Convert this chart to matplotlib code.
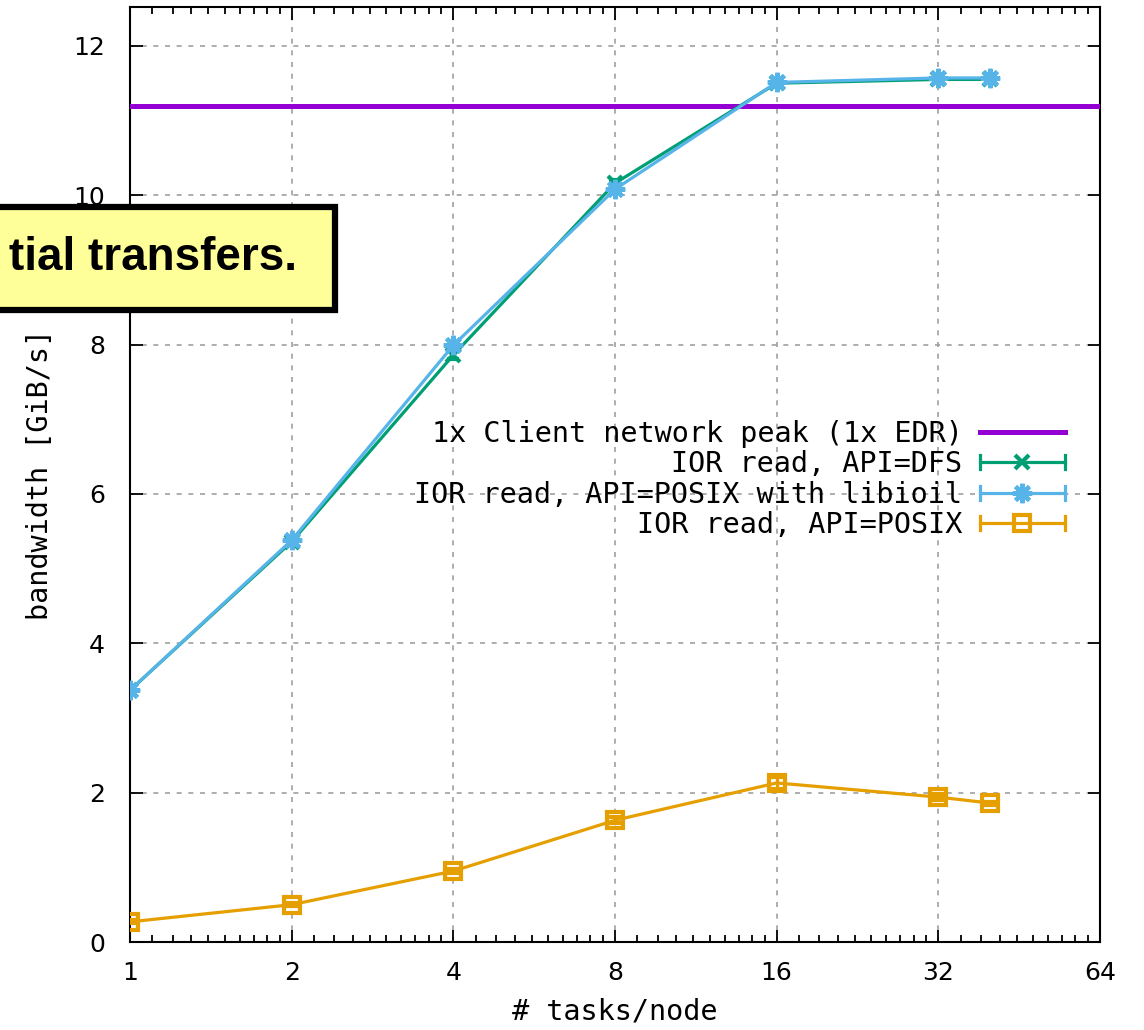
import numpy as np
import matplotlib
matplotlib.use("Agg")
import matplotlib.pyplot as plt
from matplotlib.ticker import FixedLocator, LogLocator, NullFormatter
from matplotlib.patches import Rectangle
from matplotlib.lines import Line2D
from matplotlib.legend_handler import HandlerBase

# data
tasks = [1, 2, 4, 8, 16, 32, 40]
peak_edr = 11.2
dfs_bw = [3.37, 5.36, 7.86, 10.16, 11.50, 11.55, 11.55]
dfs_err = [0.03, 0.03, 0.05, 0.04, 0.03, 0.03, 0.03]
libioil_bw = [3.37, 5.38, 7.99, 10.08, 11.51, 11.57, 11.57]
libioil_err = [0.03, 0.03, 0.04, 0.05, 0.03, 0.03, 0.03]
posix_bw = [0.27, 0.50, 0.95, 1.63, 2.13, 1.94, 1.86]
posix_err = [0.02, 0.02, 0.03, 0.04, 0.08, 0.04, 0.02]

labels = ["1x Client network peak (1x EDR)", "IOR read, API=DFS",
          "IOR read, API=POSIX with libioil", "IOR read, API=POSIX"]
callout_text = "tial transfers."

mono = "DejaVu Sans Mono"


class GnuplotErrHandler(HandlerBase):
    # gnuplot style key sample: line with end caps and a marker in the middle
    def create_artists(self, legend, orig, xd, yd, width, height, fontsize, trans):
        line = orig.lines[0]
        y = height / 2 - yd
        x0, x1 = -xd, -xd + width
        art = [Line2D([x0, x1], [y, y], color=line.get_color(), lw=line.get_linewidth())]
        for x in (x0, x1):
            art.append(Line2D([x, x], [y - 5, y + 5], color=line.get_color(),
                              lw=line.get_linewidth()))
        art.append(Line2D([(x0 + x1) / 2], [y], color=line.get_color(),
                          marker=line.get_marker(), ms=line.get_markersize(),
                          mew=line.get_markeredgewidth(), mfc=line.get_markerfacecolor(),
                          ls="none"))
        for a in art:
            a.set_transform(trans)
        return art


fig = plt.figure(figsize=(11.44, 10.30), dpi=100)
ax = fig.add_axes([130 / 1144, 88 / 1030, 970 / 1144, 935 / 1030])

ax.axhline(peak_edr, color="#9400d3", lw=3.6, label=labels[0], zorder=3)
e1 = ax.errorbar(tasks, dfs_bw, yerr=dfs_err, color="#009e73", lw=2.3,
                 marker="x", ms=10, mew=3, capsize=4, label=labels[1], zorder=4)
e2 = ax.errorbar(tasks, libioil_bw, yerr=libioil_err, color="#56b4e9", lw=2.3,
                 marker=(8, 2, 0), ms=14, mew=3, capsize=4, label=labels[2], zorder=5)
e3 = ax.errorbar(tasks, posix_bw, yerr=posix_err, color="#e69f00", lw=2.3,
                 marker="s", ms=11, mew=3, mfc="none", capsize=4,
                 label=labels[3], zorder=4)

ax.set_xscale("log", base=2)
ax.set_xlim(1, 64)
ax.set_ylim(0, 12.52)
ax.xaxis.set_major_locator(FixedLocator([1, 2, 4, 8, 16, 32, 64]))
ax.set_xticklabels(["1", "2", "4", "8", "16", "32", "64"])
ax.xaxis.set_minor_locator(LogLocator(base=2, subs=np.arange(1.1, 2.0, 0.1)))
ax.xaxis.set_minor_formatter(NullFormatter())
ax.set_yticks([0, 2, 4, 6, 8, 10, 12])

ax.tick_params(which="both", direction="in", top=True, right=True,
               labelsize=18, width=1.3)
ax.tick_params(axis="y", pad=18)
ax.tick_params(axis="x", pad=14)
ax.tick_params(which="major", length=9)
ax.tick_params(which="minor", length=5)
for s in ax.spines.values():
    s.set_linewidth(1.5)

ax.grid(True, which="major", color="#a0a0a0", ls=(0, (3, 4)), lw=1.2)

ax.set_xlabel("# tasks/node", family=mono, fontsize=20.5, labelpad=9)
ax.set_ylabel("bandwidth [GiB/s]", family=mono, fontsize=20.5, labelpad=14)

handler = GnuplotErrHandler()
leg = ax.legend(loc="upper right", bbox_to_anchor=(1065 / 1144, 1 - 420 / 1030),
                bbox_transform=fig.transFigure, frameon=False, markerfirst=False,
                prop={"family": mono, "size": 20.5}, handlelength=3.0,
                handletextpad=0.6, labelspacing=0.08, borderpad=0, borderaxespad=0,
                handler_map={e1: handler, e2: handler, e3: handler})

# yellow callout box, cut off at the left edge
box = Rectangle((-20 / 1144, 1 - 310 / 1030), 355 / 1144, 103 / 1030,
                transform=fig.transFigure, facecolor="#ffff99",
                edgecolor="black", lw=4.5, zorder=10)
fig.patches.append(box)
fig.text(297 / 1144, 1 - 258 / 1030, callout_text, ha="right", va="center",
         family="Liberation Sans", weight="bold", fontsize=33, zorder=11)

fig.savefig("out.png", dpi=100)
